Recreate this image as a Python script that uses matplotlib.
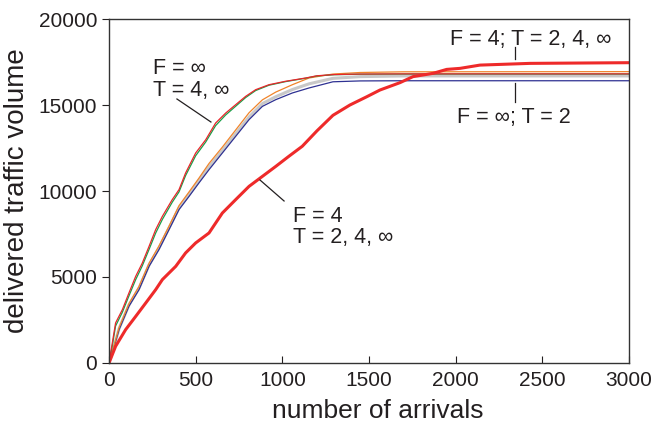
import matplotlib
matplotlib.use('Agg')
import matplotlib.pyplot as plt

TEXT_COLOR = '#231f20'

# F = inf, T = 4 / T = inf (fast group)
fast_x = [0, 19, 38, 77, 115, 154, 192, 231, 269, 308, 365, 404, 442, 500, 558, 615, 673, 731,
          788, 846, 923, 1019, 1135, 1200, 1300, 1450, 1700, 3000]
fast_red = [0, 1160, 2330, 3100, 4070, 5040, 5810, 6780, 7750, 8530, 9500, 10080, 11050, 12210,
            12980, 13950, 14530, 15020, 15500, 15890, 16180, 16380, 16570, 16700, 16770, 16800, 16810, 16810]
fast_green = [0, 1000, 2150, 2950, 3900, 4850, 5650, 6600, 7550, 8350, 9350, 9950, 10900, 12050,
              12850, 13800, 14420, 14930, 15430, 15840, 16150, 16360, 16560, 16690, 16760, 16790, 16800, 16800]

# middle group
mid_x = [0, 19, 58, 115, 173, 231, 288, 346, 404, 462, 519, 577, 654, 731, 808, 885, 962, 1058,
         1154, 1292, 1450, 1700, 3000]
mid_navy = [0, 580, 1940, 3300, 4260, 5620, 6590, 7750, 8920, 9690, 10470, 11240, 12210, 13180,
            14150, 14920, 15310, 15700, 15990, 16350, 16400, 16410, 16410]
mid_orange = [0, 650, 2050, 3450, 4450, 5800, 6800, 7950, 9150, 9950, 10750, 11600, 12550, 13550,
              14550, 15300, 15750, 16180, 16570, 16800, 16890, 16930, 16940]
mid_gray = [0, 600, 2000, 3370, 4350, 5700, 6680, 7850, 9020, 9800, 10600, 11400, 12350, 13330,
            14300, 15080, 15480, 15900, 16230, 16550, 16650, 16690, 16690]

# F = 4, T = 2, 4, inf (slow group)
slow_x = [0, 38, 96, 154, 212, 269, 308, 385, 442, 500, 577, 654, 731, 808, 885, 962, 1038, 1115,
          1200, 1292, 1390, 1487, 1563, 1679, 1754, 1869, 1948, 2025, 2140, 2429, 3000]
slow_red = [0, 970, 1940, 2710, 3490, 4260, 4850, 5620, 6400, 6980, 7560, 8720, 9500, 10270, 10850,
            11430, 12020, 12600, 13500, 14400, 15000, 15480, 15870, 16300, 16650, 16840, 17070, 17130,
            17320, 17420, 17460]

plt.rcParams['font.family'] = ['Liberation Sans', 'DejaVu Sans']

fig = plt.figure(figsize=(6.54, 4.22), dpi=100)
ax = fig.add_axes([109 / 654, 1 - 363 / 422, 520 / 654, 344 / 422])

ax.plot(mid_x, mid_gray, color='#c8c8c8', lw=2.2)
ax.plot(mid_x, mid_navy, color='#2e3192', lw=0.9)
ax.plot(mid_x, mid_orange, color='#f0842a', lw=0.9)
ax.plot(fast_x, fast_green, color='#1aa04a', lw=0.9)
ax.plot(fast_x, fast_red, color='#e8262b', lw=0.9)
ax.plot(slow_x, slow_red, color='#ee2a2a', lw=2.2)

ax.set_xlim(0, 3000)
ax.set_ylim(0, 20000)
ax.set_xticks([0, 500, 1000, 1500, 2000, 2500, 3000])
ax.set_yticks([0, 5000, 10000, 15000, 20000])
ax.tick_params(axis='x', direction='in', length=5, labelsize=15, colors=TEXT_COLOR, pad=6)
ax.tick_params(axis='y', direction='out', length=5, labelsize=15, colors=TEXT_COLOR)
for s in ax.spines.values():
    s.set_color('#333333')
    s.set_linewidth(1.0)

ax.set_xlabel('number of arrivals', fontsize=19, color=TEXT_COLOR, labelpad=5)
ax.xaxis.set_label_coords(0.517, -0.105)
ax.set_ylabel('delivered traffic volume', fontsize=20, color=TEXT_COLOR, labelpad=6)

# annotations
fs = 15.5
ax.text(254, 16802, 'F = \u221e', fontsize=fs, color=TEXT_COLOR, va='baseline')
ax.text(254, 15523, 'T = 4, \u221e', fontsize=fs, color=TEXT_COLOR, va='baseline')
ax.plot([392, 588], [15349, 14012], color=TEXT_COLOR, lw=0.9)

ax.text(1062, 8198, 'F = 4', fontsize=fs, color=TEXT_COLOR, va='baseline')
ax.text(1062, 6977, 'T = 2, 4, \u221e', fontsize=fs, color=TEXT_COLOR, va='baseline')
ax.plot([871, 1010], [10640, 9419], color=TEXT_COLOR, lw=0.9)

ax.text(2435, 18488, 'F = 4; T = 2, 4, \u221e', fontsize=fs, color=TEXT_COLOR, va='baseline', ha='center')
ax.plot([2342, 2342], [18372, 17674], color=TEXT_COLOR, lw=0.9)
ax.text(2337, 13953, 'F = \u221e; T = 2', fontsize=fs, color=TEXT_COLOR, va='baseline', ha='center')
ax.plot([2342, 2342], [16279, 15174], color=TEXT_COLOR, lw=0.9)

fig.savefig('out.png', dpi=100)
